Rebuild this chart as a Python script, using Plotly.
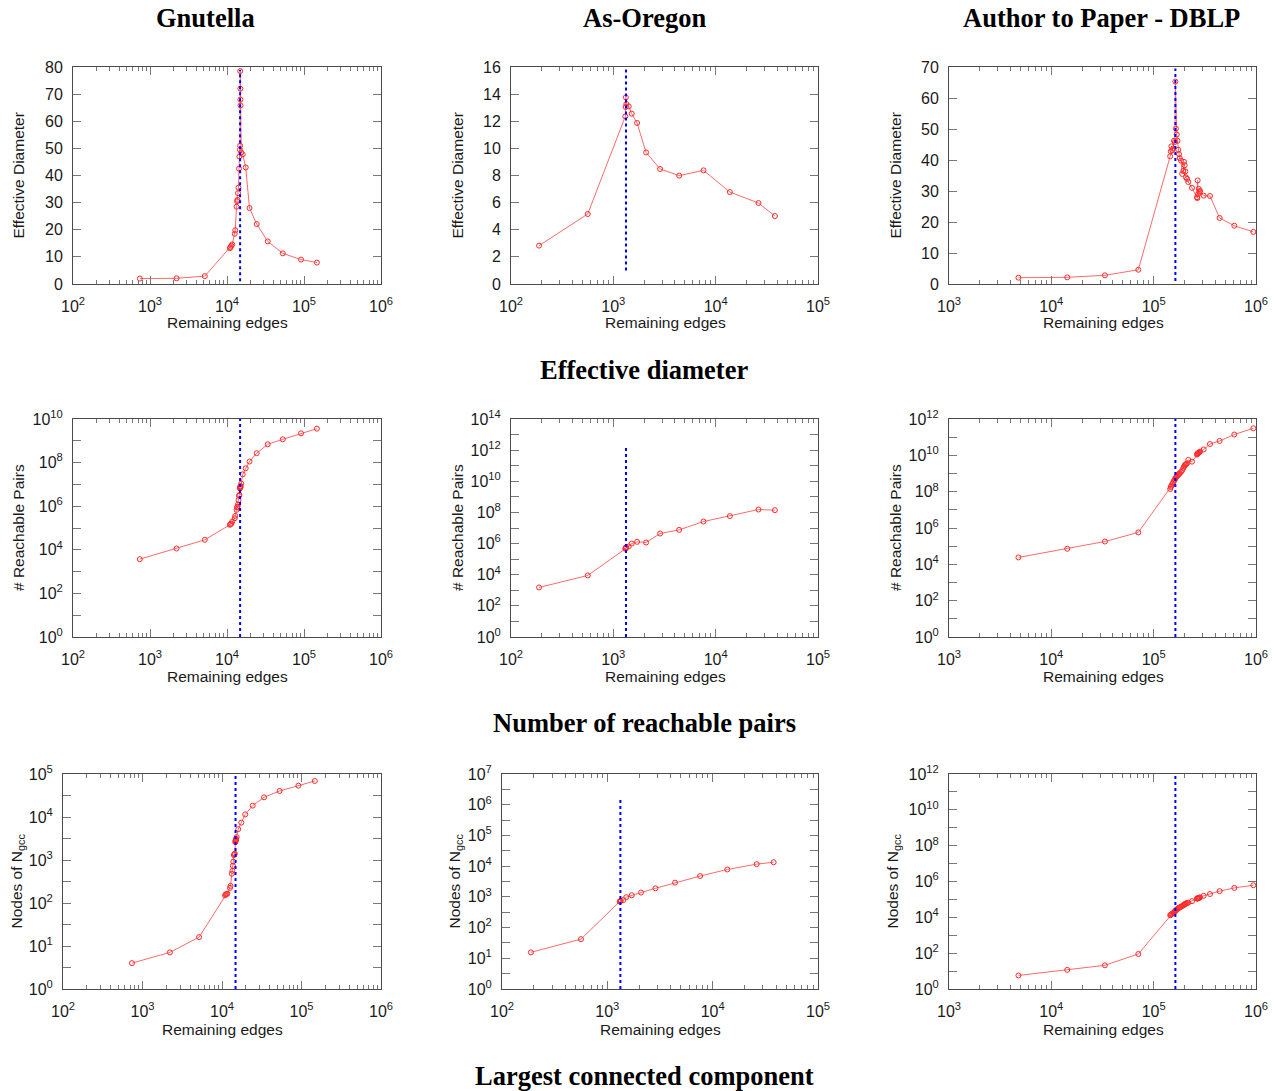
import plotly.graph_objects as go

W, H = 1276, 1091

# ---------------- data ----------------
# Gnutella
gnu_edges = [738, 2210, 5150, 10900, 11100, 11400, 11700, 12600, 12800, 13300, 13500, 13700,
             13900, 14100, 14300, 14500, 14700, 14800, 14850, 14900, 14950, 15000, 15300,
             16000, 17500, 19600, 24300, 33800, 53000, 91500, 147000]
gnu_diam = [2.0, 2.1, 2.9, 13.2, 13.6, 14.1, 14.6, 18.5, 19.8, 28.5, 30.5, 31.0,
            33.5, 35.5, 42.5, 47.0, 49.5, 51.0, 78.5, 72.0, 68.0, 65.8, 48.5,
            47.8, 43.0, 28.0, 22.1, 15.7, 11.3, 9.0, 7.9]
gnu_pairs = [3720, 11500, 28700, 1.4e5, 1.5e5, 1.6e5, 2.0e5, 2.8e5, 3.6e5, 6.8e5, 8.7e5, 9.5e5,
             1.2e6, 1.9e6, 3.0e6, 3.3e6, 6.5e6, 7.0e6, 7.2e6, 7.5e6, 8.0e6, 8.5e6, 1.1e7,
             2.9e7, 5.5e7, 1.12e8, 2.7e8, 6.9e8, 1.17e9, 2.2e9, 3.6e9]
gnu_gcc = [4.0, 7.1, 16.1, 150, 158, 162, 165, 225, 250, 480, 560, 730,
           920, 1300, 1350, 1400, 2600, 2750, 2800, 2900, 3000, 3100, 3400,
           5200, 7400, 11500, 18400, 28700, 40300, 53600, 68800]

# As-Oregon
ore_edges = [188, 562, 1310, 1320, 1325, 1340, 1415, 1513, 1706, 2090, 2865, 4395, 7600, 13770, 26200, 37900]
ore_diam = [2.83, 5.16, 12.36, 13.05, 13.76, 13.27, 13.1, 12.56, 11.87, 9.7, 8.48, 7.99, 8.38, 6.78, 5.97, 5.01]
ore_pairs = [1520, 8960, 4.6e5, 5.0e5, 5.6e5, 5.9e5, 6.5e5, 1.0e6, 1.3e6, 1.17e6, 4.4e6, 7.6e6, 2.6e7, 5.8e7, 1.54e8, 1.39e8]
ore_gcc = [15.6, 42, 700, 710, 720, 740, 780, 977, 1130, 1380, 1900, 2900, 4760, 7800, 11600, 13400]

# Author to Paper - DBLP
dblp_edges = [4770, 14300, 33400, 70800, 145000, 147000, 149000, 152000, 155000, 158000,
              161000, 163000, 165000, 168000, 171000, 174000, 177000, 180000, 185000, 190000,
              195000, 198000, 201000, 204000, 207000, 212000, 218000, 237000, 265000, 267000,
              269000, 272000, 276000, 279000, 284000, 308000, 355000, 441000, 614000, 942000]
dblp_diam = [2.04, 2.15, 2.8, 4.6, 41.2, 42.8, 44.4, 43.2, 43.7, 46.2,
             45.8, 65.3, 50.1, 48.2, 46.2, 43.3, 41.9, 40.6, 39.8, 35.5,
             36.5, 39.4, 38.3, 36.3, 34.4, 33.9, 32.9, 31.0, 28.0, 27.7,
             33.4, 29.0, 30.7, 29.7, 30.0, 28.5, 28.4, 21.3, 18.8, 16.8]
dblp_pairs = [2.4e4, 7.2e4, 1.8e5, 5.7e5, 1.4e8, 1.8e8, 2.1e8, 2.6e8, 3.2e8, 4.0e8,
              4.6e8, 5.5e8, 6.0e8, 6.8e8, 7.6e8, 8.5e8, 9.5e8, 1.05e9, 1.2e9, 1.5e9,
              2.0e9, 2.4e9, 2.8e9, 3.0e9, 3.3e9, 3.6e9, 5.6e9, 4.5e9, 1.1e10, 1.2e10,
              1.25e10, 1.3e10, 1.4e10, 1.5e10, 1.6e10, 2.1e10, 4.2e10, 6.2e10, 1.4e11, 3.1e11]
dblp_gcc = [5.7, 11.7, 21, 90, 1.3e4, 1.4e4, 1.5e4, 1.6e4, 1.75e4, 1.9e4,
            2.1e4, 2.3e4, 2.5e4, 2.7e4, 2.9e4, 3.2e4, 3.4e4, 3.6e4, 3.9e4, 4.3e4,
            4.7e4, 5.0e4, 5.3e4, 5.6e4, 6.0e4, 6.2e4, 6.6e4, 8.0e4, 1.1e5, 1.12e5,
            1.15e5, 1.18e5, 1.2e5, 1.25e5, 1.3e5, 1.6e5, 2.0e5, 2.9e5, 4.4e5, 6.2e5]

# critical cut (blue dotted line): x position and y extent per panel
cut_x = {"gnu": 14800, "ore": 1330, "dblp": 163000}
cut_y = {1: [1, 79], 2: [1, 15.9], 3: [1, 69.5],
         4: [1, 1e10], 5: [1, 1.45e12], 6: [1, 1e12],
         7: [1, 1e5], 8: [1, 1.6e6], 9: [1, 1e12]}

col_titles = ["Gnutella", "As-Oregon", "Author to Paper - DBLP"]
row_titles = ["Effective diameter", "Number of reachable pairs", "Largest connected component"]
x_title = "Remaining edges"
y_titles = ["Effective Diameter", "# Reachable Pairs", "Nodes of N<sub>gcc</sub>"]

# x-axis decade exponents per dataset
x_exps = {"gnu": [2, 3, 4, 5, 6], "ore": [2, 3, 4, 5], "dblp": [3, 4, 5, 6]}
# y-axis tick values: linear panels
lin_ticks = {1: [0, 10, 20, 30, 40, 50, 60, 70, 80],
             2: [0, 2, 4, 6, 8, 10, 12, 14, 16],
             3: [0, 10, 20, 30, 40, 50, 60, 70]}
# y-axis labelled exponents and unlabelled exponents for log panels
log_lab = {4: [0, 2, 4, 6, 8, 10], 5: [0, 2, 4, 6, 8, 10, 12, 14], 6: [0, 2, 4, 6, 8, 10, 12],
           7: [0, 1, 2, 3, 4, 5], 8: [0, 1, 2, 3, 4, 5, 6, 7], 9: [0, 2, 4, 6, 8, 10, 12]}
log_unl = {4: [1, 3, 5, 7, 9], 5: [1, 3, 5, 7, 9, 11, 13], 6: [1, 3, 5, 7, 9, 11],
           7: [0.5, 1.5, 2.5, 3.5, 4.5], 8: [0.5, 1.5, 2.5, 3.5, 4.5, 5.5, 6.5],
           9: [1, 3, 5, 7, 9, 11]}

# ---------------- layout geometry (screen pixels) ----------------
row_y = [(67, 284), (419, 637), (774, 989)]
col_x = [[(73, 381), (511, 818), (949, 1256)],
         [(73, 381), (511, 818), (949, 1256)],
         [(63, 381), (502, 818), (949, 1256)]]
ytitle_x = [[18, 457, 895], [18, 457, 895], [17, 455, 893]]
xtitle_cx = [[227, 665, 1103], [227, 665, 1103], [222, 660, 1103]]
xtitle_y = [323, 676, 1029]
coltitle_x = [205, 644, 1101]
coltitle_y = 18
rowtitle_y = [370, 723, 1076]

datasets = ["gnu", "ore", "dblp"]
series = {
    "gnu": (gnu_edges, [gnu_diam, gnu_pairs, gnu_gcc]),
    "ore": (ore_edges, [ore_diam, ore_pairs, ore_gcc]),
    "dblp": (dblp_edges, [dblp_diam, dblp_pairs, dblp_gcc]),
}

RED_LINE = "#ff6a6a"
RED_MK = "#ff2a2a"
BLUE = "#0000ff"
FRAME = "#4a4a4a"
TICK = "#777777"
TXT = "#1a1a1a"
FONT = "Liberation Sans"
SERIF = "Liberation Serif"
TICKFONT = dict(family=FONT, size=16, color=TXT)
LABFONT = dict(family=FONT, size=15.5, color=TXT)
TITLEFONT = dict(family=SERIF, size=26.5, color="#000")

def px_x(p):
    return p / W

def px_y(p):
    return 1 - p / H

fig = go.Figure()
layout = {}
annotations = []

for r in range(3):
    for c in range(3):
        idx = r * 3 + c + 1
        ds = datasets[c]
        xs, ylist = series[ds]
        ys = ylist[r]
        xa = "x" if idx == 1 else f"x{idx}"
        ya = "y" if idx == 1 else f"y{idx}"
        fig.add_trace(go.Scatter(
            x=xs, y=ys, xaxis=xa, yaxis=ya, mode="lines+markers",
            line=dict(color=RED_LINE, width=1),
            marker=dict(symbol="circle-open", size=5, color=RED_MK, line=dict(width=1, color=RED_MK)),
            showlegend=False, hoverinfo="x+y"))
        fig.add_trace(go.Scatter(
            x=[cut_x[ds], cut_x[ds]], y=cut_y[idx], xaxis=xa, yaxis=ya, mode="lines",
            line=dict(color=BLUE, width=2, dash="dot"), showlegend=False, hoverinfo="skip"))

        x0, x1 = col_x[r][c]
        y0, y1 = row_y[r]
        ex = x_exps[ds]
        xkey = "xaxis" if idx == 1 else f"xaxis{idx}"
        ykey = "yaxis" if idx == 1 else f"yaxis{idx}"
        layout[xkey] = dict(
            type="log", range=[ex[0], ex[-1]], domain=[px_x(x0), px_x(x1)], anchor=ya,
            tickmode="array", tickvals=[10 ** e for e in ex],
            ticktext=[f"10<sup>{e}</sup>" for e in ex],
            ticks="inside", ticklen=8, tickwidth=1, tickcolor=TICK,
            minor=dict(ticks="inside", ticklen=4, tickwidth=1, tickcolor=TICK,
                       tickmode="linear", dtick="D1", showgrid=False),
            showline=True, linecolor=FRAME, linewidth=1, mirror="ticks",
            showgrid=False, zeroline=False, automargin=False, ticklabelstandoff=8,
            tickfont=TICKFONT, fixedrange=True)
        common_y = dict(
            domain=[px_y(y1), px_y(y0)], anchor=xa,
            ticks="inside", ticklen=8, tickwidth=1, tickcolor=TICK,
            showline=True, linecolor=FRAME, linewidth=1, mirror="ticks",
            showgrid=False, zeroline=False, ticklabelstandoff=6, automargin=False,
            tickfont=TICKFONT, fixedrange=True)
        if r == 0:
            tv = lin_ticks[idx]
            layout[ykey] = dict(
                type="linear", range=[tv[0], tv[-1]],
                tickmode="array", tickvals=tv, ticktext=[str(v) for v in tv], **common_y)
        else:
            lab = log_lab[idx]
            unl = log_unl[idx]
            layout[ykey] = dict(
                type="log", range=[lab[0], lab[-1]],
                tickmode="array", tickvals=[10 ** e for e in lab],
                ticktext=[f"10<sup>{e}</sup>" for e in lab],
                minor=dict(ticks="inside", ticklen=8, tickwidth=1, tickcolor=TICK,
                           tickmode="array", tickvals=[10 ** e for e in unl], showgrid=False),
                **common_y)

        # axis titles
        annotations.append(dict(
            text=x_title, x=px_x(xtitle_cx[r][c]), y=px_y(xtitle_y[r]), xref="paper", yref="paper",
            xanchor="center", yanchor="middle", showarrow=False, font=LABFONT))
        annotations.append(dict(
            text=y_titles[r], x=px_x(ytitle_x[r][c]), y=px_y((y0 + y1) / 2), xref="paper", yref="paper",
            xanchor="center", yanchor="middle", showarrow=False, textangle=-90, font=LABFONT))

for c in range(3):
    annotations.append(dict(
        text=f"<b>{col_titles[c]}</b>", x=px_x(coltitle_x[c]), y=px_y(coltitle_y),
        xref="paper", yref="paper", xanchor="center", yanchor="middle", showarrow=False,
        font=TITLEFONT))
for r in range(3):
    annotations.append(dict(
        text=f"<b>{row_titles[r]}</b>", x=px_x(644), y=px_y(rowtitle_y[r]),
        xref="paper", yref="paper", xanchor="center", yanchor="middle", showarrow=False,
        font=TITLEFONT))

fig.update_layout(
    width=W, height=H, margin=dict(l=0, r=0, t=0, b=0, pad=0, autoexpand=False),
    paper_bgcolor="white", plot_bgcolor="white",
    annotations=annotations, showlegend=False, **layout)

fig.write_html("out.html", config={"displayModeBar": False},
               post_script="document.body.style.margin='0px';document.body.style.overflow='hidden';")
